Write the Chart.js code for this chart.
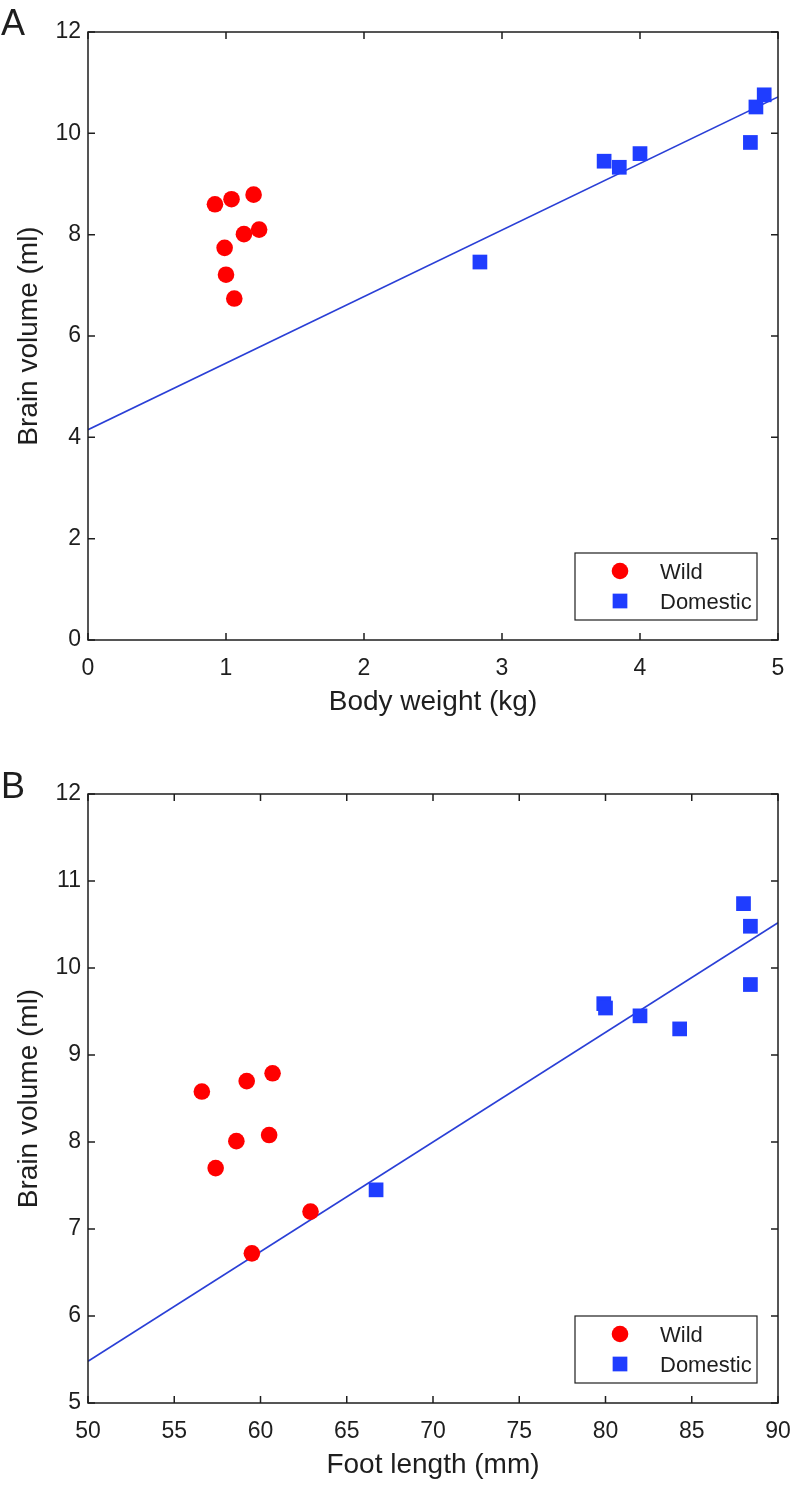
<!DOCTYPE html>
<html>
<head>
<meta charset="utf-8">
<title>Brain volume vs body weight / foot length</title>
<script src="https://cdn.jsdelivr.net/npm/chart.js@4.4.0/dist/chart.umd.min.js"></script>
<style>
    html, body { margin: 0; padding: 0; background: #fff; }
    #wrap { position: relative; width: 793px; height: 1485px; }
    .panel { position: absolute; left: 0; }
    #chartA { top: 0; }
    #chartB { top: 742px; }
</style>
</head>
<body>
<div id="wrap">
    <canvas id="chartA" class="panel" width="793" height="742"></canvas>
    <canvas id="chartB" class="panel" width="793" height="743"></canvas>
</div>
<script>
// Panel A: body weight (kg) vs brain volume (ml)
const wildWeightA = [0.92, 1.04, 1.20, 1.24, 1.13, 0.99, 1.00, 1.06];
const wildBrainA  = [8.60, 8.70, 8.79, 8.10, 8.01, 7.74, 7.21, 6.74];
const domWeightA  = [2.84, 3.74, 3.85, 4.00, 4.80, 4.84, 4.90];
const domBrainA   = [7.46, 9.45, 9.33, 9.60, 9.82, 10.52, 10.76];
const fitWeightA  = [0, 5];
const fitBrainA   = [4.15, 10.72];

// Panel B: foot length (mm) vs brain volume (ml)
const wildFootB  = [56.6, 59.2, 60.7, 58.6, 60.5, 57.4, 62.9, 59.5];
const wildBrainB = [8.58, 8.70, 8.79, 8.01, 8.08, 7.70, 7.20, 6.72];
const domFootB   = [66.7, 79.9, 80.0, 82.0, 84.3, 88.0, 88.4, 88.4];
const domBrainB  = [7.45, 9.59, 9.54, 9.45, 9.30, 10.74, 10.48, 9.81];
const fitFootB   = [50, 90];
const fitBrainB  = [5.48, 10.52];

const FONT = "'Liberation Sans', Arial, Helvetica, sans-serif";
const INK = '#1e1e1e';
const RED = '#ff0000';
const BLUE = '#1f3dff';
const FIT_BLUE = '#2a3fd6';
const TICK_LEN = 7;

function toPoints(xs, ys) {
    return xs.map((x, i) => ({ x: x, y: ys[i] }));
}

// frame with inward ticks on all sides, legend box, panel letter
const panelDecor = {
    id: 'panelDecor',
    afterDraw(chart, args, opts) {
        const { ctx, chartArea: a } = chart;
        const xs = chart.scales.x, ys = chart.scales.y;
        ctx.save();
        ctx.strokeStyle = INK;
        ctx.lineWidth = 1.5;
        ctx.strokeRect(a.left, a.top, a.right - a.left, a.bottom - a.top);

        ctx.beginPath();
        xs.ticks.forEach(t => {
            const px = xs.getPixelForValue(t.value);
            ctx.moveTo(px, a.bottom); ctx.lineTo(px, a.bottom - TICK_LEN);
            ctx.moveTo(px, a.top); ctx.lineTo(px, a.top + TICK_LEN);
        });
        ys.ticks.forEach(t => {
            const py = ys.getPixelForValue(t.value);
            ctx.moveTo(a.left, py); ctx.lineTo(a.left + TICK_LEN, py);
            ctx.moveTo(a.right, py); ctx.lineTo(a.right - TICK_LEN, py);
        });
        ctx.stroke();

        // legend (only the marker datasets)
        const boxW = 182, boxH = 67;
        const lx = a.right - 21 - boxW, ly = a.bottom - 20 - boxH;
        ctx.fillStyle = '#fff';
        ctx.fillRect(lx, ly, boxW, boxH);
        ctx.lineWidth = 1.2;
        ctx.strokeRect(lx, ly, boxW, boxH);
        const entries = chart.data.datasets.filter(d => d.showInLegend);
        entries.forEach((d, i) => {
            const cy = ly + 18 + i * 30;
            ctx.fillStyle = d.backgroundColor;
            if (d.pointStyle === 'circle') {
                ctx.beginPath();
                ctx.arc(lx + 45, cy, d.pointRadius, 0, Math.PI * 2);
                ctx.fill();
            } else {
                const s = d.pointRadius * Math.SQRT1_2;
                ctx.fillRect(lx + 45 - s, cy - s, 2 * s, 2 * s);
            }
            ctx.fillStyle = INK;
            ctx.font = '22px ' + FONT;
            ctx.textAlign = 'left';
            ctx.textBaseline = 'middle';
            ctx.fillText(d.label, lx + 85, cy + 2);
        });

        ctx.fillStyle = INK;
        ctx.font = '36px ' + FONT;
        ctx.textAlign = 'left';
        ctx.textBaseline = 'alphabetic';
        ctx.fillText(opts.letter, 1, opts.letterY);
        ctx.restore();
    }
};

function buildPanel(canvasId, p) {
    return new Chart(document.getElementById(canvasId), {
        type: 'scatter',
        data: {
            datasets: [
                {
                    label: 'Wild',
                    data: toPoints(p.wildX, p.wildY),
                    pointStyle: 'circle',
                    pointRadius: 8.3,
                    backgroundColor: RED,
                    borderWidth: 0,
                    pointBorderWidth: 0,
                    showInLegend: true
                },
                {
                    label: 'Domestic',
                    data: toPoints(p.domX, p.domY),
                    pointStyle: 'rect',
                    pointRadius: 10.4,
                    backgroundColor: BLUE,
                    borderWidth: 0,
                    pointBorderWidth: 0,
                    showInLegend: true
                },
                {
                    type: 'line',
                    label: 'Fit',
                    data: toPoints(p.fitX, p.fitY),
                    borderColor: FIT_BLUE,
                    borderWidth: 1.6,
                    pointRadius: 0,
                    fill: false,
                    tension: 0
                }
            ]
        },
        options: {
            responsive: false,
            animation: false,
            events: [],
            layout: { padding: { left: 0, right: 15, top: p.plotTop, bottom: 0 } },
            plugins: {
                legend: { display: false },
                tooltip: { enabled: false },
                panelDecor: { letter: p.letter, letterY: p.letterY }
            },
            scales: {
                x: {
                    type: 'linear',
                    min: p.xMin,
                    max: p.xMax,
                    grid: { display: false, drawTicks: false },
                    border: { display: false },
                    ticks: {
                        stepSize: p.xStep,
                        padding: 15,
                        color: INK,
                        autoSkip: false,
                        maxRotation: 0,
                        font: { family: FONT, size: 23 }
                    },
                    title: {
                        display: true,
                        text: p.xTitle,
                        color: INK,
                        font: { family: FONT, size: 28 },
                        padding: { top: 0, bottom: p.xTitlePad }
                    },
                    afterFit: s => {
                        s.height = p.xAxisH;
                        s.paddingLeft = 0;
                        s.paddingRight = 0;
                    }
                },
                y: {
                    type: 'linear',
                    min: p.yMin,
                    max: p.yMax,
                    grid: { display: false, drawTicks: false },
                    border: { display: false },
                    ticks: {
                        stepSize: p.yStep,
                        padding: 7,
                        color: INK,
                        autoSkip: false,
                        font: { family: FONT, size: 23 }
                    },
                    title: {
                        display: true,
                        text: 'Brain volume (ml)',
                        color: INK,
                        font: { family: FONT, size: 28 },
                        padding: { top: 12, bottom: 0 }
                    },
                    afterFit: s => {
                        s.width = 88;
                        s.paddingTop = 0;
                        s.paddingBottom = 0;
                    }
                }
            }
        },
        plugins: [panelDecor]
    });
}

buildPanel('chartA', {
    letter: 'A', letterY: 35,
    wildX: wildWeightA, wildY: wildBrainA,
    domX: domWeightA, domY: domBrainA,
    fitX: fitWeightA, fitY: fitBrainA,
    xMin: 0, xMax: 5, xStep: 1,
    yMin: 0, yMax: 12, yStep: 2,
    xTitle: 'Body weight (kg)',
    plotTop: 32, xAxisH: 102, xTitlePad: 23
});

buildPanel('chartB', {
    letter: 'B', letterY: 56,
    wildX: wildFootB, wildY: wildBrainB,
    domX: domFootB, domY: domBrainB,
    fitX: fitFootB, fitY: fitBrainB,
    xMin: 50, xMax: 90, xStep: 5,
    yMin: 5, yMax: 12, yStep: 1,
    xTitle: 'Foot length (mm)',
    plotTop: 52, xAxisH: 82, xTitlePad: 3
});
</script>
</body>
</html>
